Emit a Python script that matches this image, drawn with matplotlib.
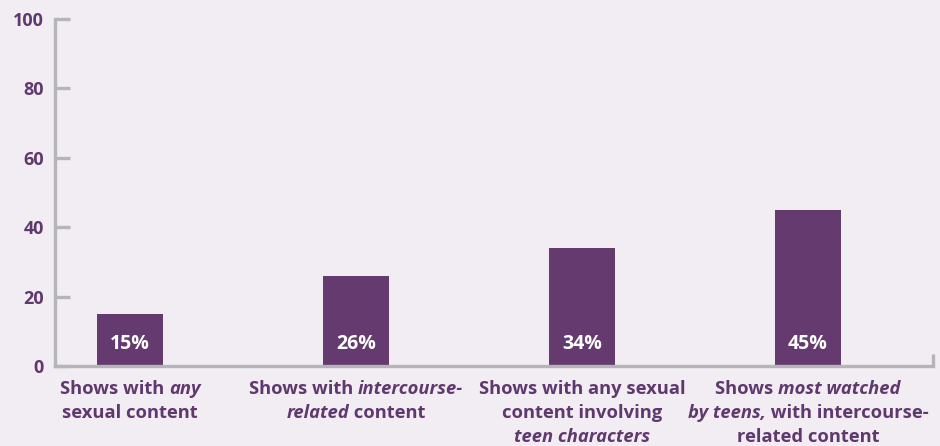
import matplotlib
matplotlib.use("Agg")
import matplotlib.pyplot as plt
from matplotlib.transforms import offset_copy

# values (percent)
values = [15, 26, 34, 45]
value_labels = ["15%", "26%", "34%", "45%"]
# category labels, one list of lines per bar, each line a list of (text, italic)
labels = [
    [[("Shows with ", False), ("any", True)],
     [("sexual content", False)]],
    [[("Shows with ", False), ("intercourse-", True)],
     [("related", True), (" content", False)]],
    [[("Shows with any sexual", False)],
     [("content involving", False)],
     [("teen characters", True)]],
    [[("Shows ", False), ("most watched", True)],
     [("by teens,", True), (" with intercourse-", False)],
     [("related content", False)]],
]
yticks = [0, 20, 40, 60, 80, 100]

bg = "#F2EDF2"
bar_col = "#643A6F"
txt_col = "#5F386F"
axis_col = "#B5B4B8"

plt.rcParams['font.family'] = ['Open Sans', 'DejaVu Sans']

fig = plt.figure(figsize=(9.4, 4.46), dpi=100, facecolor=bg)
ax = fig.add_axes([55 / 940, 80 / 446, 878 / 940, 347 / 446])
ax.set_facecolor(bg)

x = range(len(values))
ax.bar(x, values, width=0.292, color=bar_col, zorder=2)
ax.set_xlim(-0.332, 3.553)
ax.set_ylim(0, 100)

for s in ["top", "right"]:
    ax.spines[s].set_visible(False)
for s in ["left", "bottom"]:
    ax.spines[s].set_color(axis_col)
    ax.spines[s].set_linewidth(2.4)

ax.set_yticks(yticks)
ax.set_yticklabels([str(v) for v in yticks], fontsize=13, fontweight="bold", color=txt_col)
ax.tick_params(axis="y", direction="in", length=11, width=2.4, color=axis_col, pad=8)
ax.set_xticks([])

# small upward tick at the right end of the x axis
ax.plot([1, 1], [0, 0.035], transform=ax.transAxes, color=axis_col,
        lw=2.4, clip_on=False, solid_capstyle="butt")

# value labels inside the bars
for i, v in enumerate(values):
    ax.text(i, 6.3, value_labels[i], ha="center", va="center", color="white",
            fontsize=14, fontweight="bold", zorder=3)

# category labels with mixed italic segments
renderer = fig.canvas.get_renderer()
base = ax.get_xaxis_transform()
for i, lines in enumerate(labels):
    for j, segs in enumerate(lines):
        texts = []
        for s, it in segs:
            t = ax.text(i, 0, s, fontsize=13.2, fontweight="bold", color=txt_col,
                        fontstyle="italic" if it else "normal", ha="left", va="center")
            texts.append(t)
        widths = [t.get_window_extent(renderer).width for t in texts]
        start = -sum(widths) / 2
        for t, w in zip(texts, widths):
            t.set_transform(offset_copy(base, fig=fig, x=start, y=-23 - j * 24, units="dots"))
            start += w

fig.savefig("out.png", dpi=100, facecolor=bg)
